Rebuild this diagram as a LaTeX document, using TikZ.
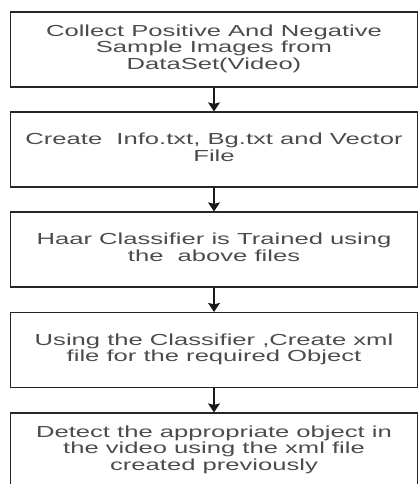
\documentclass[tikz,border=0pt]{standalone}
\usepackage{graphicx}
\usepackage{fontspec}
\setmainfont{Liberation Sans}
\usetikzlibrary{arrows.meta}
\begin{document}
\begin{tikzpicture}[x=1pt,y=-1pt,>={Stealth[length=9pt,width=12pt,inset=1.5pt]}]
 \tikzstyle{stepbox} = [draw=black!85,line width=1.2pt,minimum width=407pt,minimum height=75pt,inner sep=0pt,text=black!70,font=\fontsize{16}{16.5}\selectfont]
 \tikzstyle{flow} = [->,line width=1.4pt,black!90]
 \newcommand{\wide}[1]{\scalebox{1.6}[1]{\begin{tabular}{@{}c@{}}#1\end{tabular}}}

  \useasboundingbox (0,0) rectangle (419,484);
  \clip (0,0) rectangle (419,484);

  % Steps
  \node[stepbox] (collect) at (214,49.5) {\wide{Collect Positive And Negative\\Sample Images from\\DataSet(Video)}};
  \node[stepbox] (create) at (214,149.5) {\wide{Create~ Info.txt, Bg.txt and Vector\\File}};
  \node[stepbox] (train) at (214,249.5) {\wide{Haar Classifier is Trained using\\the~ above files}};
  \node[stepbox] (xml) at (214,350) {\wide{Using the Classifier ,Create xml\\file for the required Object}};
  \node[stepbox] (detect) at (214,450.5) {\wide{Detect the appropriate object in\\the video using the xml file\\created previously}};

  % Arrows
  \draw[flow] (collect) -- (create);
  \draw[flow] (create) -- (train);
  \draw[flow] (train) -- (xml);
  \draw[flow] (xml) -- (detect);

\end{tikzpicture}
\end{document}
